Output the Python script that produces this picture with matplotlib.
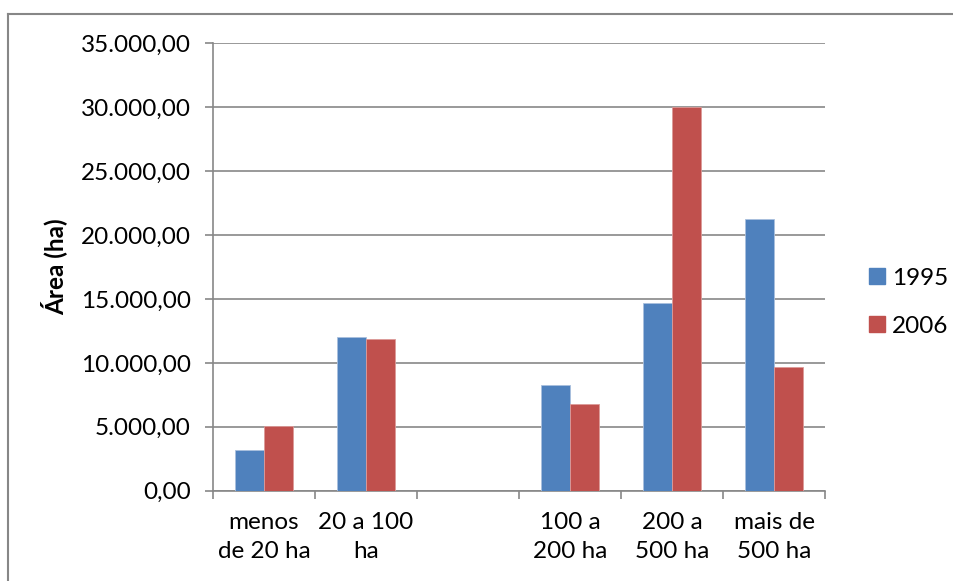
import matplotlib
matplotlib.use("Agg")
import matplotlib.pyplot as plt
from matplotlib.lines import Line2D
from matplotlib.ticker import FuncFormatter
import numpy as np

plt.rcParams['font.family'] = ['Lato', 'DejaVu Sans']

categories = ["menos\nde 20 ha", "20 a 100\nha", "", "100 a\n200 ha", "200 a\n500 ha", "mais de\n500 ha"]
area_1995 = [3220, 12030, 0, 8270, 14660, 21250]
area_2006 = [5080, 11850, 0, 6820, 30000, 9640]
series_names = ["1995", "2006"]
colors = ["#4F81BD", "#C0504D"]

fig = plt.figure(figsize=(9.54, 5.81), dpi=100)
ax = fig.add_axes([0.2233, 0.1554, 0.6415, 0.7701])

x = np.arange(len(categories))
w = 0.285
ax.bar(x - w / 2, area_1995, width=w, color=colors[0], edgecolor="#a9c0de", linewidth=0.6, zorder=3)
ax.bar(x + w / 2, area_2006, width=w, color=colors[1], edgecolor="#dc9a98", linewidth=0.6, zorder=3)

ax.set_xlim(-0.5, len(categories) - 0.5)
ax.set_ylim(0, 35000)
ax.set_yticks(np.arange(0, 35001, 5000))


def br_fmt(v, _):
    s = f"{v:,.2f}"
    return s.replace(",", "X").replace(".", ",").replace("X", ".")


ax.yaxis.set_major_formatter(FuncFormatter(br_fmt))
ax.grid(axis="y", color="#878787", linewidth=1.2, zorder=0)

fs = 17.5
ax.set_xticks(x)
ax.set_xticklabels(categories, fontsize=fs, linespacing=1.5)
ax.tick_params(axis="x", length=0, pad=15)
ax.set_xticks(np.arange(-0.5, len(categories), 1.0), minor=True)
ax.tick_params(axis="x", which="minor", length=6, color="#878787", width=1.2)
ax.tick_params(axis="y", length=6, color="#878787", width=1.2, labelsize=fs, pad=10)

for side in ["top", "right"]:
    ax.spines[side].set_visible(False)
ax.spines["left"].set_color("#878787")
ax.spines["left"].set_linewidth(1.2)
ax.spines["bottom"].set_color("#878787")
ax.spines["bottom"].set_linewidth(1.2)

ax.set_ylabel("Área (ha)", fontsize=fs, fontweight="bold", labelpad=10)

handles = [Line2D([0], [0], marker="s", linestyle="none", markersize=11,
                  markerfacecolor=c, markeredgecolor=c) for c in colors]
fig.legend(handles, series_names, loc="center left", bbox_to_anchor=(0.884, 0.48),
           frameon=False, fontsize=fs, handletextpad=0.1, labelspacing=1.1,
           handlelength=1.0)

# outer chart frame (left and top edges)
fig.add_artist(Line2D([8 / 954, 8 / 954], [0, 1 - 14 / 581], color="#878787", linewidth=1.5,
                      transform=fig.transFigure))
fig.add_artist(Line2D([8 / 954, 1], [1 - 14 / 581, 1 - 14 / 581], color="#878787", linewidth=1.5,
                      transform=fig.transFigure))

fig.savefig("out.png", dpi=100)
